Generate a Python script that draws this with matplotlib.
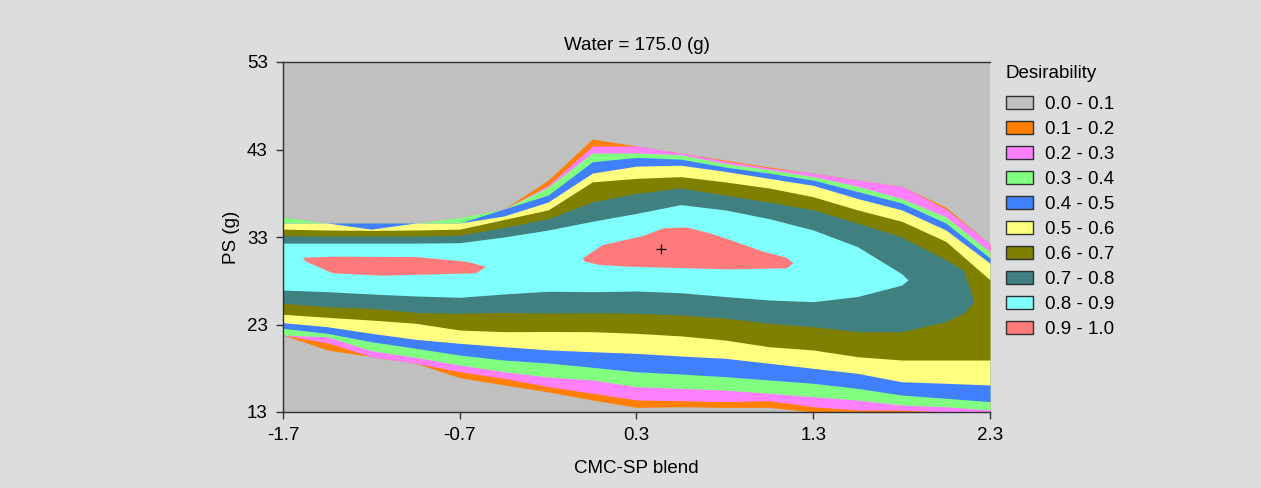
import numpy as np
import matplotlib
matplotlib.use('Agg')
import matplotlib.pyplot as plt
from matplotlib.patches import Patch

plt.rcParams['font.family'] = ['Liberation Sans', 'DejaVu Sans']

# sample columns along CMC-SP blend
x_cols = [-1.7, -1.45, -1.2, -0.95, -0.7, -0.45, -0.2, 0.05, 0.3,
          0.55, 0.8, 1.05, 1.3, 1.55, 1.8, 2.05, 2.3]

# upper / lower edge of the region where desirability >= 0.1 ... 0.6
upper_01 = [35.3, 34.6, 34.6, 34.6, 35.25, 36.2, 39.5, 44.2, 43.4, 42.6, 41.8, 41.0, 40.3, 39.5, 38.8, 36.4, 32.2]
lower_01 = [21.8, 20.09, 19.32, 18.57, 16.92, 16.09, 15.3, 14.37, 13.53, 13.6, 13.53, 13.53, 13.0, 13.0, 13.0, 13.0, 13.0]
upper_02 = [35.3, 34.6, 34.6, 34.6, 35.25, 36.2, 38.9, 43.4, 43.4, 42.6, 41.7, 40.9, 40.3, 39.5, 38.8, 36.2, 32.2]
lower_02 = [21.8, 20.92, 19.32, 18.57, 17.6, 16.85, 15.9, 15.14, 14.37, 14.29, 14.18, 14.29, 13.6, 13.23, 13.23, 13.0, 13.0]
upper_03 = [35.3, 34.6, 34.6, 34.6, 35.25, 36.2, 38.7, 42.6, 42.6, 42.4, 41.4, 40.7, 39.9, 38.8, 37.4, 35.3, 31.3]
lower_03 = [21.8, 21.6, 20.0, 19.25, 18.37, 17.6, 17.0, 16.66, 15.89, 15.7, 15.51, 15.14, 14.75, 14.37, 13.8, 13.6, 13.23]
upper_04 = [34.6, 34.6, 34.6, 34.6, 34.6, 36.2, 37.8, 41.6, 42.1, 41.9, 41.0, 40.3, 39.5, 38.2, 36.9, 34.6, 30.6]
lower_04 = [22.57, 21.99, 21.03, 20.28, 19.51, 18.94, 18.6, 18.11, 17.6, 17.34, 17.04, 16.66, 16.28, 15.7, 14.94, 14.57, 14.18]
upper_05 = [34.6, 34.6, 33.9, 34.6, 34.6, 35.4, 37.0, 40.3, 41.1, 41.2, 40.5, 39.7, 38.9, 37.4, 36.1, 33.8, 30.0]
lower_05 = [23.21, 22.75, 21.99, 21.31, 20.85, 20.46, 20.1, 19.89, 19.7, 19.4, 19.14, 18.57, 17.99, 17.42, 16.46, 16.28, 16.09]
upper_06 = [33.9, 33.8, 33.75, 33.8, 33.9, 35.0, 36.1, 39.3, 39.7, 39.9, 39.3, 38.6, 37.6, 36.1, 34.8, 32.5, 28.1]
lower_06 = [24.17, 23.82, 23.51, 23.14, 22.37, 22.18, 22.2, 22.18, 21.99, 21.7, 21.23, 20.46, 20.09, 19.32, 18.94, 18.94, 18.94]

# >= 0.7 closes before the right edge
x_07 = x_cols[:16] + [2.15, 2.21]
upper_07 = [33.15, 33.1, 33.1, 33.1, 33.2, 34.1, 35.1, 37.0, 38.0, 38.6, 37.8, 37.0, 36.1, 34.6, 33.0, 30.4, 29.2, 25.6]
lower_07 = [25.42, 25.03, 24.85, 24.39, 24.28, 24.39, 24.3, 24.35, 24.28, 24.09, 23.73, 23.14, 22.75, 22.18, 22.18, 23.33, 24.3, 25.6]

# >= 0.8
x_08 = x_cols[:15] + [1.836]
upper_08 = [32.3, 32.3, 32.3, 32.3, 32.35, 33.0, 33.8, 34.8, 35.7, 36.7, 36.1, 35.1, 33.8, 31.9, 28.8, 28.1]
lower_08 = [26.94, 26.75, 26.49, 26.26, 26.11, 26.49, 26.8, 26.75, 26.83, 26.63, 26.2, 25.8, 25.61, 26.2, 27.5, 28.1]

# >= 0.9 islands (outline points)
island1_x = [-1.587, -1.417, -0.948, -0.663, -0.551, -0.608, -1.134, -1.417, -1.57]
island1_y = [30.63, 30.75, 30.71, 30.18, 29.6, 28.85, 28.58, 28.85, 30.18]
island2_x = [-0.003, 0.11, 0.337, 0.452, 0.584, 0.716, 0.829, 1.017, 1.15, 1.187, 1.15, 0.829, 0.263, 0.092, 0.007]
island2_y = [30.57, 32.09, 33.11, 33.99, 34.1, 33.42, 32.66, 31.32, 30.63, 29.99, 29.42, 29.3, 29.6, 29.8, 30.18]

best_x, best_y = 0.44, 31.63

labels = ['0.0 - 0.1', '0.1 - 0.2', '0.2 - 0.3', '0.3 - 0.4', '0.4 - 0.5',
          '0.5 - 0.6', '0.6 - 0.7', '0.7 - 0.8', '0.8 - 0.9', '0.9 - 1.0']
colors = ['#c0c0c0', '#ff8000', '#ff80ff', '#80ff80', '#4080ff',
          '#ffff80', '#808000', '#408080', '#80ffff', '#ff7a7a']

x_ticks = [-1.7, -0.7, 0.3, 1.3, 2.3]
y_ticks = [13, 23, 33, 43, 53]

fs = 13.5

fig = plt.figure(figsize=(12.61, 4.88), dpi=100)
fig.patch.set_facecolor('#dcdddf')
ax = fig.add_axes([283 / 1261, 76 / 488, 707 / 1261, 350 / 488])
ax.set_facecolor(colors[0])

bands = [
    (x_cols, lower_01, upper_01),
    (x_cols, lower_02, upper_02),
    (x_cols, lower_03, upper_03),
    (x_cols, lower_04, upper_04),
    (x_cols, lower_05, upper_05),
    (x_cols, lower_06, upper_06),
    (x_07, lower_07, upper_07),
    (x_08, lower_08, upper_08),
]
for i, (xs, lo, hi) in enumerate(bands):
    ax.fill_between(xs, lo, hi, color=colors[i + 1], lw=0)

ax.fill(island1_x, island1_y, color=colors[9], lw=0)
ax.fill(island2_x, island2_y, color=colors[9], lw=0)
ax.plot(best_x, best_y, marker='+', color='black', ms=7, mew=0.9)

ax.set_xlim(-1.7, 2.3)
ax.set_ylim(13, 53)
ax.set_xticks(x_ticks)
ax.set_yticks(y_ticks)
ax.set_xticklabels(['%g' % v for v in x_ticks])
ax.tick_params(direction='out', length=5, width=1, color='#303030',
               labelsize=fs, pad=6)
for side in ['left', 'bottom', 'top']:
    ax.spines[side].set_color('#303030')
    ax.spines[side].set_linewidth(1)
ax.spines['right'].set_visible(False)

ax.set_title('Water = 175.0 (g)', fontsize=fs, pad=9)
ax.set_xlabel('CMC-SP blend', fontsize=fs, labelpad=11)
ax.set_ylabel('PS (g)', fontsize=fs, labelpad=5)

# legend: title as its own text, rows below
fig.text(1005 / 1261, 1 - 74 / 488, 'Desirability', fontsize=fs, va='center', ha='left')
handles = [Patch(facecolor=c, edgecolor='#303030', lw=1) for c in colors]
leg = fig.legend(handles=handles, labels=labels, loc='upper left',
                 bbox_to_anchor=(998 / 1261, 1 - 88 / 488), frameon=False,
                 fontsize=fs, handlelength=1.45, handleheight=0.7,
                 labelspacing=0.42, handletextpad=0.65, borderaxespad=0)

fig.savefig('out.png', dpi=100, facecolor=fig.get_facecolor())
